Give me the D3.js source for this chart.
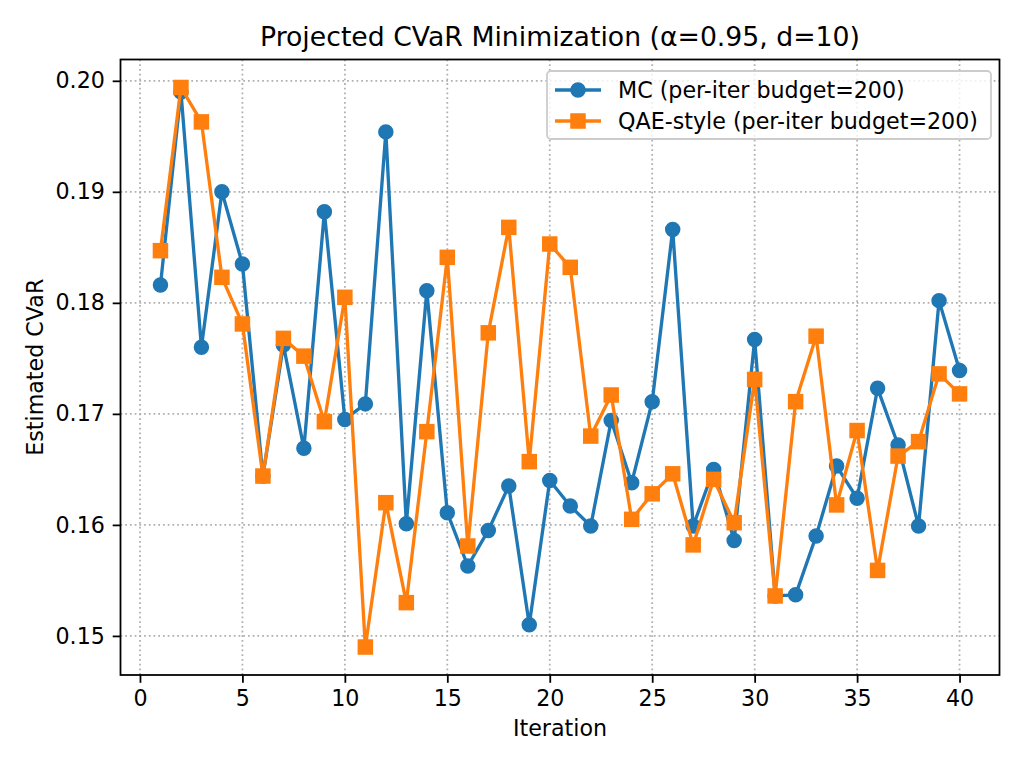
<!DOCTYPE html>
<html>
<head>
<meta charset="utf-8">
<script src="https://cdn.jsdelivr.net/npm/d3@7"></script>
<style>
    body { margin: 0; background: white; }
    svg { display: block; font-family: 'DejaVu Sans', sans-serif; }
</style>
</head>
<body>
<svg></svg>
<script>
const iterations = [1, 2, 3, 4, 5, 6, 7, 8, 9, 10, 11, 12, 13, 14, 15, 16, 17, 18, 19, 20,
    21, 22, 23, 24, 25, 26, 27, 28, 29, 30, 31, 32, 33, 34, 35, 36, 37, 38, 39, 40];

const mcValues = [0.1816, 0.1990, 0.1760, 0.1900, 0.1835, 0.1644, 0.1762, 0.1669, 0.1882, 0.1695,
    0.1709, 0.1954, 0.1601, 0.1811, 0.1611, 0.1563, 0.1595, 0.1635, 0.1510, 0.1640,
    0.1617, 0.1599, 0.1694, 0.1638, 0.1711, 0.1866, 0.1599, 0.1650, 0.1586, 0.1767,
    0.1536, 0.1537, 0.1590, 0.1653, 0.1624, 0.1723, 0.1672, 0.1599, 0.1802, 0.1739];

const qaeValues = [0.1847, 0.1994, 0.1963, 0.1823, 0.1781, 0.1644, 0.1768, 0.1752, 0.1693, 0.1805,
    0.1490, 0.1620, 0.1530, 0.1684, 0.1841, 0.1581, 0.1773, 0.1868, 0.1657, 0.1853,
    0.1832, 0.1680, 0.1717, 0.1605, 0.1628, 0.1646, 0.1582, 0.1641, 0.1602, 0.1731,
    0.1536, 0.1711, 0.1770, 0.1618, 0.1685, 0.1559, 0.1662, 0.1675, 0.1736, 0.1718];

const xTicks = [0, 5, 10, 15, 20, 25, 30, 35, 40];
const yTicks = [0.15, 0.16, 0.17, 0.18, 0.19, 0.20];

const seriesNames = ['MC (per-iter budget=200)', 'QAE-style (per-iter budget=200)'];

const titleText = 'Projected CVaR Minimization (\u03b1=0.95, d=10)';
const xLabelText = 'Iteration';
const yLabelText = 'Estimated CVaR';

const width = 1024;
const height = 768;
const plotLeft = 120.5;
const plotRight = 999.5;
const plotTop = 59.5;
const plotBottom = 675;

const blue = '#1f77b4';
const orange = '#ff7f0e';
const fontSize = 22.2;
const lw = 3.33;
const markerSize = 13.3;
const markerEdge = 2.2;
const tickLen = 7.8;

let svg = d3.select('svg')
    .attr('width', width)
    .attr('height', height)

let xScale = undefined;
let yScale = undefined;

let generateScales = () => {
    let xMin = d3.min(iterations), xMax = d3.max(iterations)
    let xPad = (xMax - xMin) * 0.05
    xScale = d3.scaleLinear()
        .domain([xMin - xPad, xMax + xPad])
        .range([plotLeft, plotRight])

    let all = mcValues.concat(qaeValues)
    let yMin = d3.min(all), yMax = d3.max(all)
    let yPad = (yMax - yMin) * 0.05
    yScale = d3.scaleLinear()
        .domain([yMin - yPad, yMax + yPad])
        .range([plotBottom, plotTop])
}

let drawGrid = () => {
    let grid = svg.append('g')
        .attr('stroke', '#b0b0b0')
        .attr('stroke-width', 1.78)
        .attr('stroke-dasharray', '1.78,2.94')

    grid.selectAll('.vgrid')
        .data(xTicks)
        .enter()
        .append('line')
        .attr('x1', d => xScale(d))
        .attr('x2', d => xScale(d))
        .attr('y1', plotTop)
        .attr('y2', plotBottom)

    grid.selectAll('.hgrid')
        .data(yTicks)
        .enter()
        .append('line')
        .attr('x1', plotLeft)
        .attr('x2', plotRight)
        .attr('y1', d => yScale(d))
        .attr('y2', d => yScale(d))
}

let addMarker = (g, shape, cx, cy, color) => {
    if (shape === 'circle') {
        g.append('circle')
            .attr('cx', cx)
            .attr('cy', cy)
            .attr('r', markerSize / 2)
            .attr('fill', color)
            .attr('stroke', color)
            .attr('stroke-width', markerEdge)
    } else {
        g.append('rect')
            .attr('x', cx - markerSize / 2)
            .attr('y', cy - markerSize / 2)
            .attr('width', markerSize)
            .attr('height', markerSize)
            .attr('fill', color)
            .attr('stroke', color)
            .attr('stroke-width', markerEdge)
    }
}

let drawSeries = (values, color, shape) => {
    let points = iterations.map((it, i) => [it, values[i]])

    let line = d3.line()
        .x(d => xScale(d[0]))
        .y(d => yScale(d[1]))

    svg.append('path')
        .datum(points)
        .attr('fill', 'none')
        .attr('stroke', color)
        .attr('stroke-width', lw)
        .attr('stroke-linejoin', 'round')
        .attr('d', line)

    let g = svg.append('g')
    points.forEach(d => addMarker(g, shape, xScale(d[0]), yScale(d[1]), color))
}

let generateAxes = () => {
    let xAxis = d3.axisBottom(xScale)
        .tickValues(xTicks)
        .tickSize(tickLen)
        .tickPadding(tickLen)
        .tickFormat(d3.format('d'))

    let yAxis = d3.axisLeft(yScale)
        .tickValues(yTicks)
        .tickSize(tickLen)
        .tickPadding(tickLen)
        .tickFormat(d3.format('.2f'))

    let gx = svg.append('g')
        .attr('transform', 'translate(0,' + plotBottom + ')')
        .call(xAxis)
    let gy = svg.append('g')
        .attr('transform', 'translate(' + plotLeft + ',0)')
        .call(yAxis)

    for (let g of [gx, gy]) {
        g.select('.domain').remove()
        g.selectAll('.tick line').attr('stroke', '#000').attr('stroke-width', 1.78)
        g.selectAll('.tick text')
            .attr('fill', '#000')
            .style('font-size', fontSize + 'px')
            .style('font-family', 'DejaVu Sans')
    }

    // frame
    svg.append('rect')
        .attr('x', plotLeft)
        .attr('y', plotTop)
        .attr('width', plotRight - plotLeft)
        .attr('height', plotBottom - plotTop)
        .attr('fill', 'none')
        .attr('stroke', '#000')
        .attr('stroke-width', 1.78)
}

let drawLabels = () => {
    svg.append('text')
        .attr('x', (plotLeft + plotRight) / 2)
        .attr('y', 46)
        .attr('text-anchor', 'middle')
        .style('font-size', '26.7px')
        .text(titleText)

    svg.append('text')
        .attr('x', (plotLeft + plotRight) / 2)
        .attr('y', 736)
        .attr('text-anchor', 'middle')
        .style('font-size', fontSize + 'px')
        .text(xLabelText)

    svg.append('text')
        .attr('transform', 'translate(43,' + (plotTop + plotBottom) / 2 + ') rotate(-90)')
        .attr('text-anchor', 'middle')
        .style('font-size', fontSize + 'px')
        .text(yLabelText)
}

let drawLegend = () => {
    let lg = svg.append('g')

    lg.append('rect')
        .attr('x', 547)
        .attr('y', 71)
        .attr('width', 444)
        .attr('height', 68)
        .attr('rx', 4)
        .attr('fill', 'white')
        .attr('fill-opacity', 0.8)
        .attr('stroke', '#cccccc')
        .attr('stroke-width', 1.78)

    let rows = [
        { name: seriesNames[0], color: blue, shape: 'circle', y: 90 },
        { name: seriesNames[1], color: orange, shape: 'square', y: 121 }
    ]

    rows.forEach(r => {
        lg.append('line')
            .attr('x1', 555)
            .attr('x2', 601)
            .attr('y1', r.y)
            .attr('y2', r.y)
            .attr('stroke', r.color)
            .attr('stroke-width', lw)
        addMarker(lg, r.shape, 578, r.y, r.color)
        lg.append('text')
            .attr('x', 618)
            .attr('y', r.y + 8)
            .style('font-size', fontSize + 'px')
            .text(r.name)
    })
}

generateScales();
drawGrid();
drawSeries(mcValues, blue, 'circle');
drawSeries(qaeValues, orange, 'square');
generateAxes();
drawLabels();
drawLegend();
</script>
</body>
</html>
